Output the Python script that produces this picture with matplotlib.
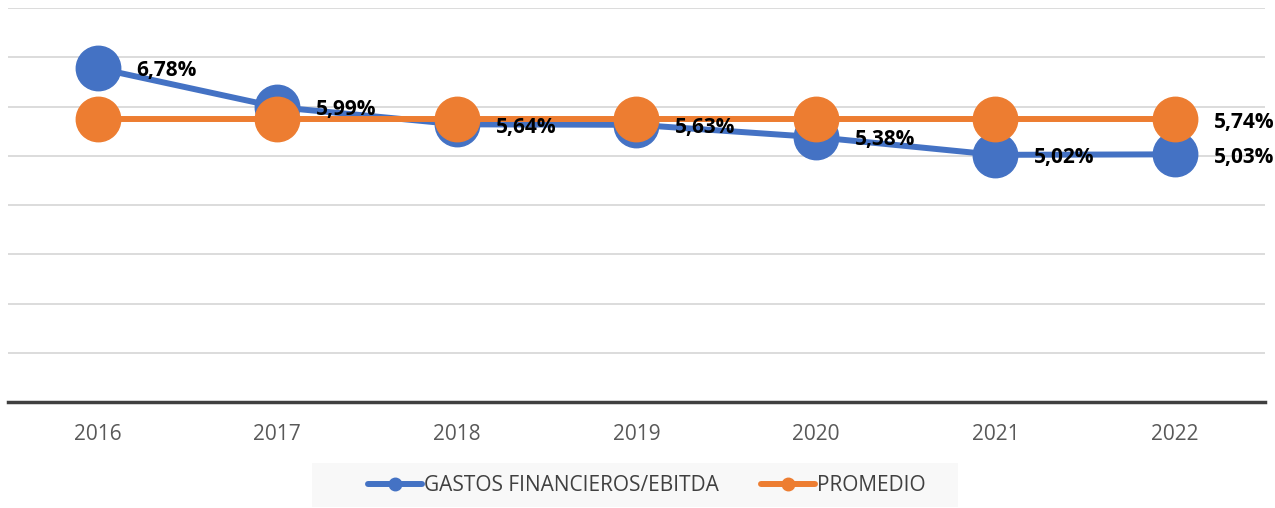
import matplotlib
matplotlib.use("Agg")
import matplotlib.pyplot as plt
from matplotlib.lines import Line2D
from matplotlib.patches import Rectangle

years = ["2016", "2017", "2018", "2019", "2020", "2021", "2022"]
gastos_ebitda = [6.78, 5.99, 5.64, 5.63, 5.38, 5.02, 5.03]
promedio = [5.74, 5.74, 5.74, 5.74, 5.74, 5.74, 5.74]
series_names = ["GASTOS FINANCIEROS/EBITDA", "PROMEDIO"]

BLUE = "#4472C4"
ORANGE = "#ED7D31"

plt.rcParams["font.family"] = ["Open Sans", "DejaVu Sans"]

fig = plt.figure(figsize=(12.75, 5.08), dpi=100)
ax = fig.add_axes([0.0063, 0.2087, 0.9857, 0.7753])

x = list(range(len(years)))
ax.plot(x, gastos_ebitda, color=BLUE, lw=4.3, marker="o", ms=32,
        solid_capstyle="round", zorder=3)
ax.plot(x, promedio, color=ORANGE, lw=4.3, marker="o", ms=32,
        solid_capstyle="round", zorder=4)

def fmt(v):
    return f"{v:.2f}%".replace(".", ",")

for xi, v in zip(x, gastos_ebitda):
    ax.annotate(fmt(v), (xi, v), xytext=(28, -2), textcoords="offset points",
                ha="left", va="center", fontsize=15, fontweight="bold",
                color="black", zorder=6)
ax.annotate(fmt(promedio[-1]), (x[-1], promedio[-1]), xytext=(28, -2),
            textcoords="offset points", ha="left", va="center", fontsize=15,
            fontweight="bold", color="black", zorder=6)

ax.set_xlim(-0.5, len(years) - 0.5)
ax.set_ylim(0, 8)
ax.set_yticks(range(0, 9))
ax.yaxis.grid(True, color="#d9d9d9", lw=1.3)
ax.set_axisbelow(True)
ax.tick_params(axis="y", length=0, labelleft=False)
ax.set_xticks(x)
ax.set_xticklabels(years, fontsize=15, color="#595959")
ax.tick_params(axis="x", length=0, pad=16)
for side in ["top", "left", "right"]:
    ax.spines[side].set_visible(False)
ax.spines["bottom"].set_color("#404040")
ax.spines["bottom"].set_linewidth(2.5)
ax.spines["bottom"].set_zorder(5)

# legend background panel
fig.patches.append(Rectangle((312 / 1275, 1 - 507 / 508), 646 / 1275, 44 / 508,
                             transform=fig.transFigure, facecolor="#f8f8f8",
                             edgecolor="none", zorder=0))

handles = [
    Line2D([0], [0], color=BLUE, lw=4.3, marker="o", ms=9, solid_capstyle="round"),
    Line2D([0], [0], color=ORANGE, lw=4.3, marker="o", ms=9, solid_capstyle="round"),
]
leg = fig.legend(handles, series_names, loc="center", bbox_to_anchor=(0.5075, 0.0445),
                 ncol=2, frameon=False, fontsize=15, handlelength=2.6,
                 handletextpad=0.1, columnspacing=2.0, borderpad=0.45)
for t in leg.get_texts():
    t.set_color("#404040")

fig.savefig("out.png", dpi=100, facecolor="white")
